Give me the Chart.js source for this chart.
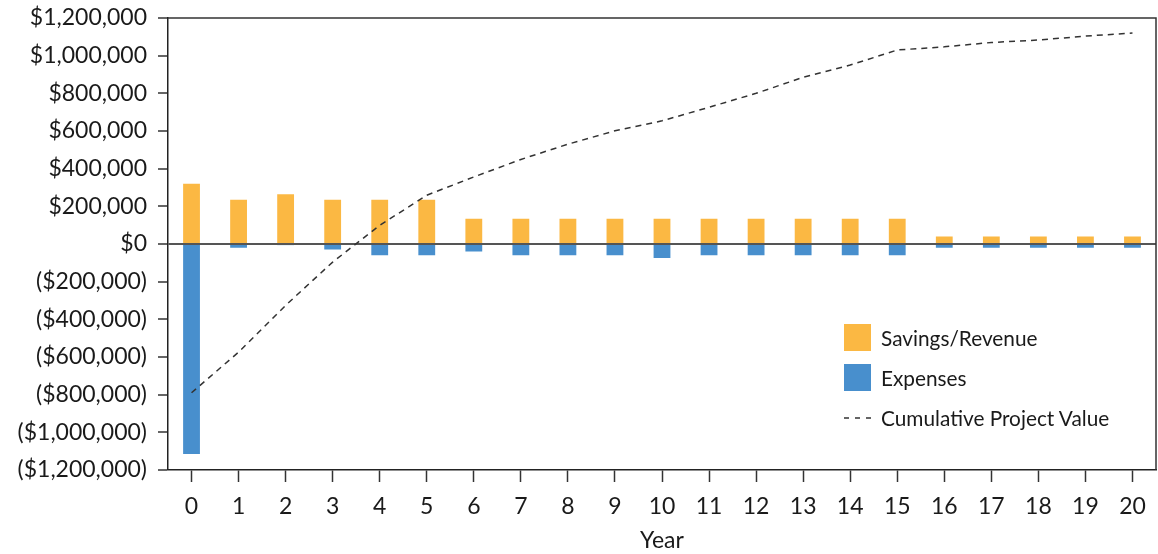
<!DOCTYPE html>
<html>
<head>
<meta charset="utf-8">
<script src="https://cdn.jsdelivr.net/npm/chart.js@4.4.1/dist/chart.umd.min.js"></script>
<style>
  body { margin: 0; background: #fff; }
  #wrap { position: relative; width: 1158px; height: 554px; }
  #legend { position: absolute; left: 844px; top: 324px; font-family: Lato, sans-serif; font-size: 20.8px; color: #1a1a1a; }
  .item { display: flex; align-items: center; height: 27px; margin-bottom: 13px; }
  .box { width: 27px; height: 27px; margin-right: 10px; }
  .dash { width: 27px; height: 27px; margin-right: 10px; }
</style>
</head>
<body>
<div id="wrap">
  <canvas id="grafico"></canvas>
  <div id="legend"></div>
</div>
<script>
const years = ['0','1','2','3','4','5','6','7','8','9','10','11','12','13','14','15','16','17','18','19','20'];
const savings = [325000, 240000, 270000, 240000, 240000, 240000, 140000, 140000, 140000, 140000, 140000,
                 140000, 140000, 140000, 140000, 140000, 45000, 45000, 45000, 45000, 45000];
const expenses = [-1120000, -25000, -8000, -35000, -65000, -65000, -45000, -65000, -65000, -65000, -80000,
                  -65000, -65000, -65000, -65000, -65000, -25000, -25000, -25000, -25000, -25000];
const cumulative = [-790000, -574000, -326000, -96000, 99000, 259000, 356000, 449000, 530000, 601000, 654000,
                    726000, 800000, 885000, 950000, 1030000, 1047000, 1070000, 1083000, 1104000, 1120000];

const naranja = '#fbb843';
const azul = '#488fcd';
const fuente = 'Lato, sans-serif';

function dinero(v) {
  const s = '$' + Math.abs(v).toLocaleString('en-US');
  return v < 0 ? '(' + s + ')' : s;
}

// marco arriba y a la derecha del area del grafico
const marco = {
  id: 'marco',
  afterDraw(chart) {
    const a = chart.chartArea, ctx = chart.ctx;
    ctx.save();
    ctx.strokeStyle = '#333';
    ctx.lineWidth = 1.5;
    ctx.beginPath();
    ctx.moveTo(a.left, a.top);
    ctx.lineTo(a.right, a.top);
    ctx.lineTo(a.right, a.bottom);
    ctx.stroke();
    ctx.restore();
  }
};

const ctx = document.getElementById('grafico');
const chart = new Chart(ctx, {
  type: 'bar',
  data: {
    labels: years,
    datasets: [{
      label: 'Savings/Revenue',
      data: savings,
      backgroundColor: naranja,
      borderColor: 'rgba(255,255,255,0.45)',
      borderWidth: 1,
      stack: 'flujo',
      order: 2
    }, {
      label: 'Expenses',
      data: expenses,
      backgroundColor: azul,
      borderColor: 'rgba(255,255,255,0.45)',
      borderWidth: 1,
      stack: 'flujo',
      order: 2
    }, {
      type: 'line',
      label: 'Cumulative Project Value',
      data: cumulative,
      borderColor: '#333',
      borderWidth: 1.5,
      borderDash: [6, 5],
      pointRadius: 0,
      fill: false,
      tension: 0,
      stack: 'linea',
      order: 1
    }]
  },
  options: {
    responsive: true,
    maintainAspectRatio: false,
    animation: false,
    layout: { padding: { top: 18, right: 2, left: 0, bottom: 0 } },
    datasets: { bar: { barPercentage: 0.4, categoryPercentage: 1 } },
    plugins: {
      legend: { display: false },
      tooltip: { enabled: false }
    },
    scales: {
      x: {
        stacked: true,
        grid: { display: true, drawOnChartArea: false, offset: false, tickLength: 12, tickColor: '#333', tickWidth: 1.5 },
        border: { color: '#222', width: 1.5 },
        ticks: { color: '#1a1a1a', font: { family: fuente, size: 23 }, padding: 11 },
        title: { display: true, text: 'Year', color: '#1a1a1a', font: { family: fuente, size: 23 }, padding: { top: 0, bottom: 0 } },
        afterFit(s) { s.height = 84; }
      },
      y: {
        stacked: true,
        min: -1200000,
        max: 1200000,
        grid: {
          drawOnChartArea: true,
          tickLength: 10,
          color: c => (c.tick && c.tick.value === 0) ? '#555' : 'rgba(0,0,0,0)',
          lineWidth: c => (c.tick && c.tick.value === 0) ? 2 : 0,
          tickColor: '#333',
          tickWidth: 1.5
        },
        border: { color: '#222', width: 1.5 },
        ticks: {
          stepSize: 200000,
          color: '#1a1a1a',
          font: { family: fuente, size: 23 },
          padding: 11,
          callback: v => dinero(v)
        },
        afterFit(s) { s.width = 168; s.paddingTop = 0; s.paddingBottom = 0; }
      }
    }
  },
  plugins: [marco]
});

// leyenda en HTML a partir de los datasets del grafico
const leyenda = document.getElementById('legend');
chart.data.datasets.forEach(ds => {
  const it = document.createElement('div');
  it.className = 'item';
  if (ds.type === 'line') {
    it.innerHTML = '<svg class="dash" width="27" height="27"><line x1="0" y1="14" x2="27" y2="14" stroke="#333" stroke-width="1.5" stroke-dasharray="5,6"/></svg>';
  } else {
    it.innerHTML = '<div class="box" style="background:' + ds.backgroundColor + '"></div>';
  }
  const t = document.createElement('span');
  t.textContent = ds.label;
  it.appendChild(t);
  leyenda.appendChild(it);
});
</script>
</body>
</html>
